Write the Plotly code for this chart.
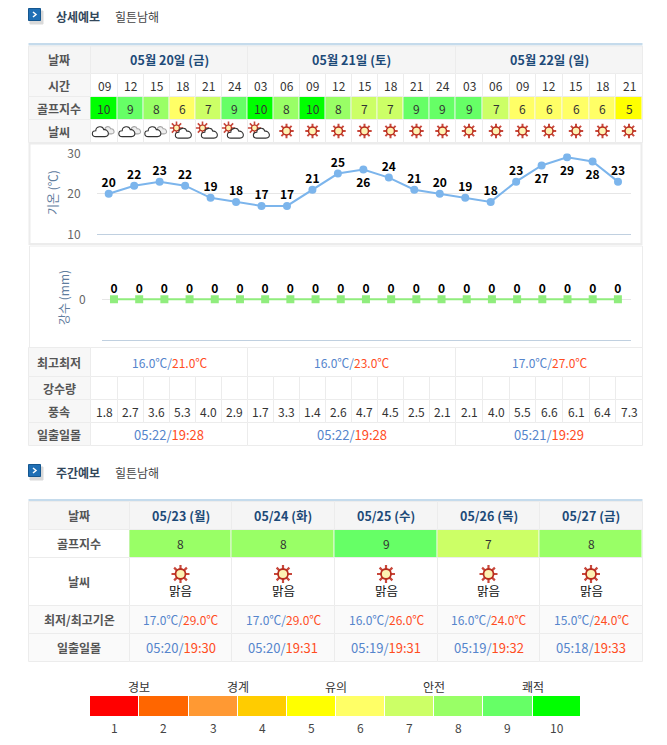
import plotly.graph_objects as go

# ── Data ─────────────────────────────────────────────────────
PLACE = "힐튼남해"
DAYS = ["05월 20일 (금)", "05월 21일 (토)", "05월 22일 (일)"]
HOURS = ["09", "12", "15", "18", "21", "24",
         "03", "06", "09", "12", "15", "18", "21", "24",
         "03", "06", "09", "12", "15", "18", "21"]
GOLF = [10, 9, 8, 6, 7, 9, 10, 8, 10, 8, 7, 7, 9, 9, 9, 7, 6, 6, 6, 6, 5]
SKY = ["cloud", "cloud", "cloud", "part", "part", "part", "part"] + ["sun"] * 14
TEMP = [20, 22, 23, 22, 19, 18, 17, 17, 21, 25, 26, 24, 21, 20, 19, 18, 23, 27, 29, 28, 23]
RAIN = [0] * 21
WIND = [1.8, 2.7, 3.6, 5.3, 4.0, 2.9, 1.7, 3.3, 1.4, 2.6, 4.7,
        4.5, 2.5, 2.1, 2.1, 4.0, 5.5, 6.6, 6.1, 6.4, 7.3]
DAY_LOW = [16.0, 16.0, 17.0]
DAY_HIGH = [21.0, 23.0, 27.0]
DAY_RISE = ["05:22", "05:22", "05:21"]
DAY_SET = ["19:28", "19:28", "19:29"]

WEEK_DAYS = ["05/23 (월)", "05/24 (화)", "05/25 (수)", "05/26 (목)", "05/27 (금)"]
WEEK_GOLF = [8, 8, 9, 7, 8]
WEEK_SKY = ["맑음"] * 5
WEEK_LOW = [17.0, 17.0, 16.0, 16.0, 15.0]
WEEK_HIGH = [29.0, 29.0, 26.0, 24.0, 24.0]
WEEK_RISE = ["05:20", "05:20", "05:19", "05:19", "05:18"]
WEEK_SET = ["19:30", "19:31", "19:31", "19:32", "19:33"]

SCALE_VALUES = [1, 2, 3, 4, 5, 6, 7, 8, 9, 10]
SCALE_COLORS = ["#ff0000", "#ff6600", "#ff9933", "#ffcc00", "#ffff00",
                "#ffff66", "#ccff66", "#99ff66", "#66ff66", "#00ff00"]
SCALE_NAMES = ["경보", "경계", "유의", "안전", "쾌적"]

# ── Page geometry (pixels) ───────────────────────────────────
W, H = 667, 745
LEFT, RIGHT = 28.5, 642.5
COL_EDGES = [90.5, 117.5, 143.5, 169.5, 195.5, 221.5, 247.5, 273.5, 299.5, 325.5, 351.5,
             377.5, 403.5, 429.5, 455.5, 482.5, 509.5, 535.5, 562.5, 589.5, 615.5, 642.5]
DAY_EDGES = [90.5, 247.5, 455.5, 642.5]
WEEK_EDGES = [129.5, 231.5, 334.5, 437.5, 539.5, 642.5]
SCALE_EDGES = [90, 138.5, 188.5, 237.5, 286.5, 335.5, 384.5, 433.5, 482.5, 532.5, 581]

FONT = "Noto Sans CJK KR"
LINE = "#ececec"
LABEL_BG = "#f7f7f7"
HEAD_BG = "#f5f5f5"
BLUE = "#5585cc"
RED = "#ff4d1f"

shapes = []
notes = []


def cell(x0, y0, x1, y1, fill="white", line=LINE, width=1):
    shapes.append(dict(type="rect", xref="x", yref="y", x0=x0, y0=y0, x1=x1, y1=y1,
                       fillcolor=fill, line=dict(color=line, width=width), layer="below"))


def label(x, y, text, size=12, color="#333333", bold=False, anchor="center", angle=0):
    if bold:
        text = "<b>" + text + "</b>"
    notes.append(dict(x=x, y=y, xref="x", yref="y", text=text, showarrow=False,
                      xanchor=anchor, yanchor="middle", textangle=angle, borderpad=0,
                      font=dict(family=FONT, size=size, color=color)))


def pair(a, b):
    return f'<span style="color:{BLUE}">{a}/</span><span style="color:{RED}">{b}</span>'


def section(y, title):
    # blue square bullet with its soft shadow
    cell(30, y - 5, 43, y + 8, fill="#d9d9d9", line="#d9d9d9")
    shapes.append(dict(type="rect", xref="x", yref="y", x0=28.5, y0=y - 7.5, x1=40.5, y1=y + 4.5,
                       fillcolor="#1f6fb5", line=dict(color="#15568f", width=1), layer="below"))
    shapes.append(dict(type="path", xref="x", yref="y",
                       path=f"M 33 {y - 4} L 36 {y - 1.5} L 33 {y + 1}",
                       line=dict(color="white", width=1.5)))
    label(55, y, title, 12, "#33475b", True, "left")
    label(114, y, PLACE, 12, "#444444", False, "left")


def cloud_path(cx, cy, s=1.0):
    p = lambda dx, dy: f"{cx + dx * s:.1f} {cy + dy * s:.1f}"
    return ("M " + p(-5, 4) + " C " + p(-9, 4) + " " + p(-9, -1) + " " + p(-5, -1)
            + " C " + p(-5, -5) + " " + p(1, -6) + " " + p(2, -2)
            + " C " + p(6, -3) + " " + p(8, 4) + " " + p(3, 4) + " Z")


def cloud(cx, cy, color="#333333", fill="white", s=1.0):
    shapes.append(dict(type="path", xref="x", yref="y", path=cloud_path(cx, cy, s),
                       fillcolor=fill, line=dict(color=color, width=1.1), layer="above"))


# ── Section headers ──────────────────────────────────────────
section(16, "상세예보")
section(472, "주간예보")

# ── Daily table ──────────────────────────────────────────────
cell(LEFT, 43, RIGHT, 45.5, fill="#c5dbec", line="#c5dbec", width=0)

cell(LEFT, 46, DAY_EDGES[0], 73.5, HEAD_BG)
label(59, 59.5, "날짜", 12, "#555555", True)
for i, day in enumerate(DAYS):
    cell(DAY_EDGES[i], 46, DAY_EDGES[i + 1], 73.5, HEAD_BG)
    label((DAY_EDGES[i] + DAY_EDGES[i + 1]) / 2, 59.5, day, 12.5, "#1d4a78", True)

for y0, y1, name in [(73.5, 96.5, "시간"), (96.5, 119.5, "골프지수"), (119.5, 142.5, "날씨")]:
    cell(LEFT, y0, COL_EDGES[0], y1, LABEL_BG)
    label(59, (y0 + y1) / 2, name, 12, "#555555", True)
    for i in range(len(HOURS)):
        cell(COL_EDGES[i], y0, COL_EDGES[i + 1], y1)

centers = [(COL_EDGES[i] + COL_EDGES[i + 1]) / 2 for i in range(len(HOURS))]
for x, hour, golf in zip(centers, HOURS, GOLF):
    label(x, 85.5, hour)
    label(x, 108.5, str(golf))

# chart frames
cell(LEFT + 1, 143.5, RIGHT - 1, 244, line=LINE, width=2)
cell(LEFT + 1, 246, RIGHT, 347.5, line=LINE, width=1)

for y0, y1, name in [(347.5, 376.5, "최고최저"), (376.5, 399.5, "강수량"),
                     (399.5, 422.5, "풍속"), (422.5, 445.5, "일출일몰")]:
    cell(LEFT, y0, COL_EDGES[0], y1, LABEL_BG)
    label(59, (y0 + y1) / 2, name, 12, "#555555", True)

for i in range(3):
    mid = (DAY_EDGES[i] + DAY_EDGES[i + 1]) / 2
    cell(DAY_EDGES[i], 347.5, DAY_EDGES[i + 1], 376.5)
    cell(DAY_EDGES[i], 422.5, DAY_EDGES[i + 1], 445.5)
    label(mid, 362, pair(f"{DAY_LOW[i]:.1f}℃", f"{DAY_HIGH[i]:.1f}℃"))
    label(mid, 434, pair(DAY_RISE[i], DAY_SET[i]), 13)

for i, x in enumerate(centers):
    cell(COL_EDGES[i], 376.5, COL_EDGES[i + 1], 399.5)
    cell(COL_EDGES[i], 399.5, COL_EDGES[i + 1], 422.5)
    label(x, 411, f"{WIND[i]:.1f}")

# ── Weekly table ─────────────────────────────────────────────
cell(LEFT, 499, RIGHT, 501.5, fill="#c5dbec", line="#c5dbec", width=0)
WEEK_ROWS = [(501.5, 529.5, "날짜", HEAD_BG), (529.5, 557.5, "골프지수", "white"),
             (557.5, 605.5, "날씨", "white"), (605.5, 633.5, "최저/최고기온", "#fafafa"),
             (633.5, 661.5, "일출일몰", "#fafafa")]
for y0, y1, name, bg in WEEK_ROWS:
    cell(LEFT, y0, WEEK_EDGES[0], y1, bg)
    label(79, (y0 + y1) / 2, name, 12, "#555555", True)
    for i in range(5):
        cell(WEEK_EDGES[i], y0, WEEK_EDGES[i + 1], y1, bg)

week_centers = [(WEEK_EDGES[i] + WEEK_EDGES[i + 1]) / 2 for i in range(5)]
for i, x in enumerate(week_centers):
    label(x, 515.5, WEEK_DAYS[i], 12.5, "#1d4a78", True)
    label(x, 543.5, str(WEEK_GOLF[i]))
    label(x, 590.5, WEEK_SKY[i], 12.5, "#111111")
    label(x, 619.5, pair(f"{WEEK_LOW[i]:.1f}℃", f"{WEEK_HIGH[i]:.1f}℃"))
    label(x, 647.5, pair(WEEK_RISE[i], WEEK_SET[i]), 13)

# ── Colour scale captions ────────────────────────────────────
for i, name in enumerate(SCALE_NAMES):
    label(SCALE_EDGES[i * 2 + 1], 686, name, 12, "#333333")
for i, value in enumerate(SCALE_VALUES):
    label((SCALE_EDGES[i] + SCALE_EDGES[i + 1]) / 2, 727, str(value), 12, "#444444")

# ── Figure ───────────────────────────────────────────────────
fig = go.Figure()

steps = []
for i, color in enumerate(SCALE_COLORS):
    steps += [[i / 10, color], [(i + 1) / 10, color]]


def index_strip(edges, y0, y1, values, gap=1):
    fig.add_trace(go.Heatmap(x=edges, y=[y0, y1], z=[values], zmin=0.5, zmax=10.5,
                             colorscale=steps, showscale=False, xgap=gap,
                             hoverinfo="skip", xaxis="x", yaxis="y"))


index_strip(COL_EDGES, 97, 119, GOLF)
index_strip(WEEK_EDGES, 530, 557, WEEK_GOLF)
index_strip(SCALE_EDGES, 696, 716, SCALE_VALUES)

# weather icons
small_suns_x = [centers[i] for i, s in enumerate(SKY) if s == "sun"]
part_x = [centers[i] for i, s in enumerate(SKY) if s == "part"]
for i, s in enumerate(SKY):
    if s == "cloud":
        cloud(centers[i] + 5, 130.5, "#a8a8a8", "#eeeeee", 0.85)
        cloud(centers[i] - 2.5, 132, s=1.15)
    elif s == "part":
        cloud(centers[i] + 2, 133.5, s=1.15)


def suns(xs, y, ray, core, ring=1.5, spoke=2):
    fig.add_trace(go.Scatter(x=xs, y=[y] * len(xs), mode="markers", hoverinfo="skip",
                             marker=dict(symbol="asterisk-open", size=ray, color="#c8483c",
                                         line=dict(color="#c8483c", width=spoke)),
                             xaxis="x", yaxis="y", showlegend=False))
    fig.add_trace(go.Scatter(x=xs, y=[y] * len(xs), mode="markers", hoverinfo="skip",
                             marker=dict(symbol="circle", size=core, color="#fdf2b3",
                                         line=dict(color="#b92d1e", width=ring)),
                             xaxis="x", yaxis="y", showlegend=False))


suns(small_suns_x, 131, 12, 8)
suns([x - 6 for x in part_x], 128, 11, 6, 1.2, 1.6)
suns(week_centers, 574, 15, 10, 1.8, 2.2)

# temperature line
fig.add_trace(go.Scatter(x=list(range(len(TEMP))), y=TEMP, mode="lines+markers",
                         line=dict(color="#7cb5ec", width=2),
                         marker=dict(color="#7cb5ec", size=8),
                         showlegend=False, xaxis="x2", yaxis="y2",
                         hovertemplate="%{y}℃<extra></extra>"))
# the labels sit on their own invisible markers: the marker size sets their gap to the point
BELOW = [10, 17, 18, 19]
fig.add_trace(go.Scatter(x=list(range(len(TEMP))), y=TEMP, mode="markers+text",
                         text=[str(v) for v in TEMP],
                         textposition=["bottom center" if i in BELOW else "top center"
                                       for i in range(len(TEMP))],
                         textfont=dict(family=FONT, size=12, color="#000000", weight="bold"),
                         marker=dict(size=[12 if i in BELOW else 4 for i in range(len(TEMP))],
                                     opacity=0),
                         cliponaxis=False, showlegend=False, xaxis="x2", yaxis="y2",
                         hoverinfo="skip"))

# rain line
fig.add_trace(go.Scatter(x=list(range(len(RAIN))), y=RAIN, mode="lines+markers",
                         line=dict(color="#90ed7d", width=2),
                         marker=dict(color="#90ed7d", size=8, symbol="square"),
                         showlegend=False, xaxis="x3", yaxis="y3",
                         hovertemplate="%{y} mm<extra></extra>"))
fig.add_trace(go.Scatter(x=list(range(len(RAIN))), y=RAIN, mode="markers+text",
                         text=[str(v) for v in RAIN], textposition="top center",
                         textfont=dict(family=FONT, size=12, color="#000000", weight="bold"),
                         marker=dict(size=4, opacity=0),
                         cliponaxis=False, showlegend=False, xaxis="x3", yaxis="y3",
                         hoverinfo="skip"))

label(52, 193, "기온 (℃)", 12, "#5f7d9e", False, "center", -90)
label(63, 298, "강수 (mm)", 12, "#5f7d9e", False, "center", -90)

fig.update_layout(
    width=W, height=H, autosize=False,
    margin=dict(l=0, r=0, t=0, b=0, pad=0, autoexpand=False),
    paper_bgcolor="white", plot_bgcolor="white",
    font=dict(family=FONT, size=12, color="#333333"),
    showlegend=False, shapes=shapes, annotations=notes,
    xaxis=dict(range=[0, W], domain=[0, 1], visible=False, fixedrange=True),
    yaxis=dict(range=[H, 0], domain=[0, 1], visible=False, fixedrange=True),
    xaxis2=dict(domain=[97 / W, 631 / W], range=[-0.46, 20.51], anchor="y2",
                showgrid=False, zeroline=False, showticklabels=False, ticks="",
                showline=True, linecolor="#c0d0e0", linewidth=1, fixedrange=True),
    yaxis2=dict(domain=[1 - 234.3 / H, 1 - 153.3 / H], range=[10, 30], anchor="x2",
                tickvals=[10, 20, 30], ticks="outside", ticklen=13, tickcolor="rgba(0,0,0,0)",
                tickfont=dict(size=12, color="#666666"), gridcolor="#e6e6e6",
                zeroline=False, fixedrange=True),
    xaxis3=dict(domain=[102 / W, 631 / W], range=[-0.476, 20.52], anchor="y3",
                showgrid=False, zeroline=False, showticklabels=False, ticks="",
                showline=True, linecolor="#c0d0e0", linewidth=1, fixedrange=True),
    yaxis3=dict(domain=[1 - 340.3 / H, 1 - 258.3 / H], range=[-1, 1], anchor="x3",
                tickvals=[0], ticks="outside", ticklen=13, tickcolor="rgba(0,0,0,0)",
                tickfont=dict(size=12, color="#666666"), gridcolor="#e6e6e6",
                zeroline=False, fixedrange=True),
)

fig.write_html("out.html", config=dict(displayModeBar=False), post_script=(
    "document.body.style.margin='0';document.body.style.overflow='hidden';"))
